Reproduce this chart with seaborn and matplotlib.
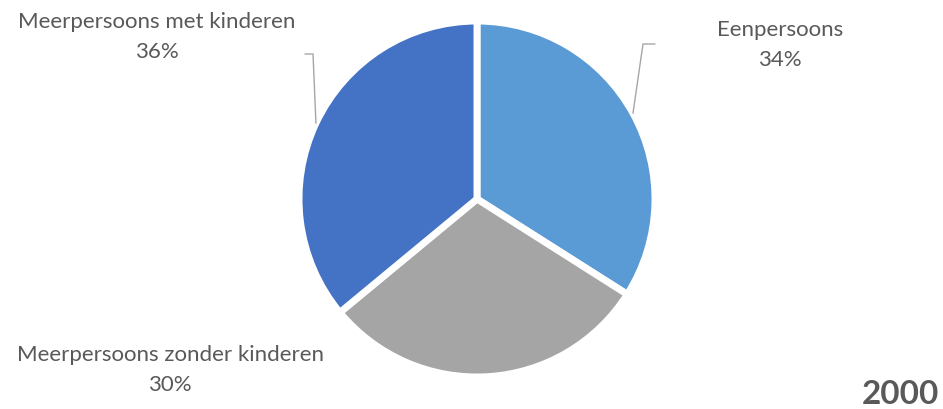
import numpy as np
import matplotlib.pyplot as plt
import seaborn as sns

categories = ["Eenpersoons", "Meerpersoons zonder kinderen", "Meerpersoons met kinderen"]
shares = [34, 30, 36]
colors = ["#5B9BD5", "#A5A5A5", "#4472C4"]
year = "2000"

sns.set_theme(style="white")
plt.rcParams["font.family"] = ["Lato", "DejaVu Sans"]

W, H = 943, 410
CX, CY, R = 477, 200, 178  # pie centre and radius in pixels


def px(x, y):
    return (x - CX) / R, (CY - y) / R


fig = plt.figure(figsize=(W / 100, H / 100), dpi=100)
ax = fig.add_axes([0, 0, 1, 1])
wedges, _ = ax.pie(
    shares,
    colors=colors,
    startangle=90,
    counterclock=False,
    radius=1,
    wedgeprops=dict(edgecolor="white", linewidth=5),
)
ax.set_xlim(-CX / R, (W - CX) / R)
ax.set_ylim(-(H - CY) / R, CY / R)
ax.axis("off")

txt = "#595959"
line = "#A6A6A6"
fs = 16

# label text positions (pixel centres of the first line)
label_pos = {
    "Eenpersoons": (780, 30),
    "Meerpersoons zonder kinderen": (170, 355),
    "Meerpersoons met kinderen": (157, 22),
}
for cat, val in zip(categories, shares):
    x, y = label_pos[cat]
    ax.text(*px(x, y), cat, ha="center", va="center", fontsize=fs, color=txt)
    ax.text(*px(x, y + 30), f"{val}%", ha="center", va="center", fontsize=fs, color=txt)

# leader lines, starting at wedge mid-angle on the rim
mids = [np.deg2rad((w.theta1 + w.theta2) / 2) for w in wedges]
a = mids[0]
ax.plot([np.cos(a), px(643, 45)[0], px(655, 45)[0]],
        [np.sin(a), px(643, 45)[1], px(655, 45)[1]], color=line, lw=1)
a = mids[2]
ax.plot([np.cos(a), px(313, 55)[0], px(305, 55)[0]],
        [np.sin(a), px(313, 55)[1], px(305, 55)[1]], color=line, lw=1)

ax.text(*px(939, 395), year, ha="right", va="center", fontsize=24,
        fontweight="bold", color=txt)

fig.savefig("out.png", dpi=100)
